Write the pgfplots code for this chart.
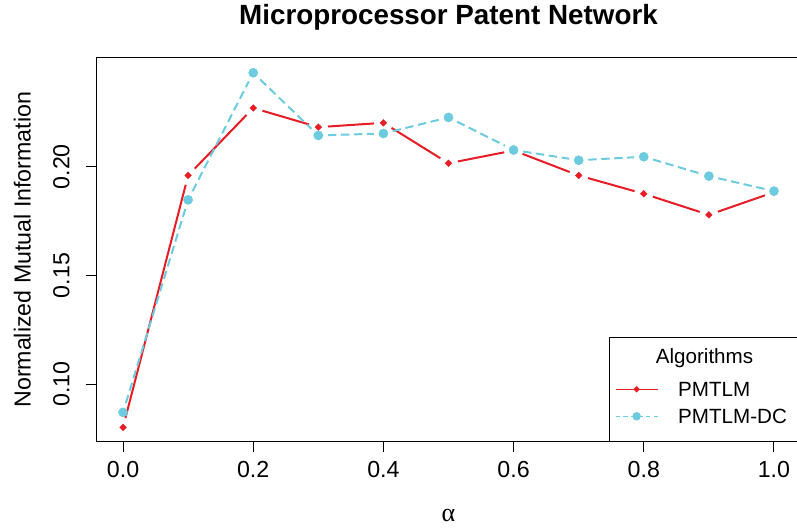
\documentclass[border=0pt]{standalone}
\usepackage{fontspec}
\setmainfont{Liberation Sans}
\newfontfamily\seriffont{Liberation Serif}
\usepackage{pgfplots}
\pgfplotsset{compat=1.18}
\definecolor{cred}{RGB}{232,28,36}
\definecolor{cblue}{RGB}{108,203,222}
\begin{document}
\begin{tikzpicture}
\pgfplotsset{
  redseg/.style={cred, line width=1bp, shorten >=4.8bp, shorten <=4.8bp, forget plot},
  blueseg/.style={cblue, line width=1bp, dash pattern=on 4.2bp off 2.3bp, shorten >=4.8bp, shorten <=4.8bp, forget plot},
}
\begin{axis}[
  scale only axis, width=351.5bp, height=191.65bp,
  xmin=-0.04, xmax=1.04, ymin=0.0738, ymax=0.2500,
  axis line style={line width=0.5bp},
  tick style={line width=0.5bp, black},
  tick align=outside, major tick length=5.5bp,
  xtick pos=bottom, ytick pos=left,
  xtick={0,0.2,0.4,0.6,0.8,1.0},
  ytick={0.10,0.15,0.20},
  /pgf/number format/assume math mode=true,
  tick label style={font=\fontsize{11.6bp}{13bp}\selectfont, inner sep=0pt},
  xticklabel style={/pgf/number format/fixed, /pgf/number format/fixed zerofill, /pgf/number format/precision=1, anchor=north, yshift=-4.5bp},
  yticklabel style={/pgf/number format/fixed, /pgf/number format/fixed zerofill, /pgf/number format/precision=2, xshift=-8bp, rotate=90, anchor=south},
  title={Microprocessor Patent Network},
  every axis title/.style={at={(axis description cs:0.5,1.0861)}, anchor=base, inner sep=0pt, font=\bfseries\fontsize{13.9bp}{16bp}\selectfont},
  xlabel={{\seriffont α}},
  every axis x label/.style={at={(axis description cs:0.5,-0.2098)}, anchor=base, inner sep=0pt, font=\fontsize{13bp}{15bp}\selectfont},
  ylabel={Normalized Mutual Information},
  every axis y label/.style={at={(axis description cs:-0.0943,0.5)}, rotate=90, anchor=base, inner sep=0pt, font=\fontsize{11.6bp}{13bp}\selectfont},
  legend style={draw=none, fill=none, at={(axis description cs:0.7369,0.155)}, anchor=north west,
    inner sep=0pt, outer sep=0pt, row sep=6.1bp, column sep=10bp,
    font=\fontsize{10.3bp}{12bp}\selectfont,
    nodes={inner sep=0pt, outer sep=0pt, text height=7.4bp, text depth=0pt}},
  legend cell align=left,
  legend image code/.code={\draw[#1, mark repeat=2, mark phase=2] plot coordinates {(0bp,0bp) (10.5bp,0bp) (21bp,0bp)};},
]
% PMTLM line segments (with gaps at points, as type "b")
\addplot[redseg] coordinates {(0.0,0.0802) (0.1,0.1960)};
\addplot[redseg] coordinates {(0.1,0.1960) (0.2,0.2270)};
\addplot[redseg] coordinates {(0.2,0.2270) (0.3,0.2182)};
\addplot[redseg] coordinates {(0.3,0.2182) (0.4,0.2202)};
\addplot[redseg] coordinates {(0.4,0.2202) (0.5,0.2016)};
\addplot[redseg] coordinates {(0.5,0.2016) (0.6,0.2075)};
\addplot[redseg] coordinates {(0.6,0.2075) (0.7,0.1960)};
\addplot[redseg] coordinates {(0.7,0.1960) (0.8,0.1876)};
\addplot[redseg] coordinates {(0.8,0.1876) (0.9,0.1779)};
\addplot[redseg] coordinates {(0.9,0.1779) (1.0,0.1883)};
\addplot[only marks, mark=square*, mark size=1.18bp, mark options={rotate=45, fill=cred, draw=cred, line width=0.2bp}, forget plot]
  coordinates {(0.0,0.0802) (0.1,0.1960) (0.2,0.2270) (0.3,0.2182) (0.4,0.2202) (0.5,0.2016) (0.6,0.2075) (0.7,0.1960) (0.8,0.1876) (0.9,0.1779) (1.0,0.1883)};
% PMTLM-DC line segments
\addplot[blueseg] coordinates {(0.0,0.0871) (0.1,0.1848)};
\addplot[blueseg] coordinates {(0.1,0.1848) (0.2,0.2432)};
\addplot[blueseg] coordinates {(0.2,0.2432) (0.3,0.2144)};
\addplot[blueseg] coordinates {(0.3,0.2144) (0.4,0.2153)};
\addplot[blueseg] coordinates {(0.4,0.2153) (0.5,0.2227)};
\addplot[blueseg] coordinates {(0.5,0.2227) (0.6,0.2077)};
\addplot[blueseg] coordinates {(0.6,0.2077) (0.7,0.2030)};
\addplot[blueseg] coordinates {(0.7,0.2030) (0.8,0.2046)};
\addplot[blueseg] coordinates {(0.8,0.2046) (0.9,0.1957)};
\addplot[blueseg] coordinates {(0.9,0.1957) (1.0,0.1888)};
\addplot[only marks, mark=*, mark size=2.3bp, mark options={fill=cblue, draw=cblue, line width=0.2bp}, forget plot]
  coordinates {(0.0,0.0871) (0.1,0.1848) (0.2,0.2432) (0.3,0.2144) (0.4,0.2153) (0.5,0.2227) (0.6,0.2077) (0.7,0.2030) (0.8,0.2046) (0.9,0.1957) (1.0,0.1888)};
% legend
\addlegendimage{cred, line width=0.6bp, mark=square*, mark size=0.85bp, mark options={rotate=45, fill=cred, draw=cred, solid}}
\addlegendentry{PMTLM}
\addlegendimage{cblue, line width=0.6bp, dash pattern=on 2.2bp off 1.6bp, mark=*, mark size=1.8bp, mark options={fill=cblue, draw=cblue, solid}}
\addlegendentry{PMTLM-DC}
\end{axis}
\draw[line width=0.5bp] (256bp,0bp) rectangle (351.5bp,52bp);
\node[anchor=base, inner sep=0pt, font=\fontsize{10.3bp}{12bp}\selectfont] at (303.75bp,39bp) {Algorithms};
\pgfresetboundingbox
\useasboundingbox (-48.5bp,-43.85bp) rectangle (350bp,220.65bp);
\end{tikzpicture}
\end{document}
